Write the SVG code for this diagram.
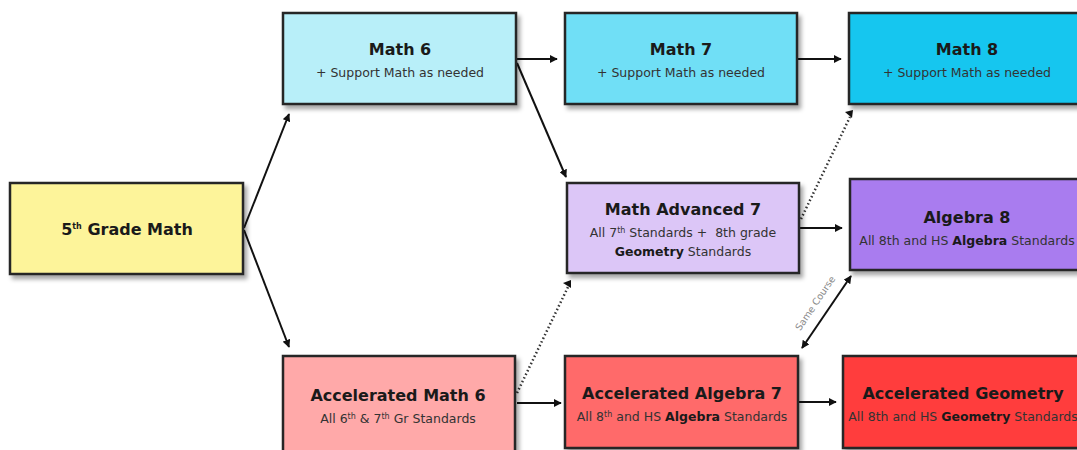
<svg xmlns="http://www.w3.org/2000/svg" width="1077" height="450" viewBox="0 0 1077 450">
<style>
.box{stroke:#262626;stroke-width:2.5;filter:url(#sh)}
.t{font-family:"DejaVu Sans","Liberation Sans",sans-serif;font-weight:bold;font-size:16px;fill:#1a1a1a;text-anchor:middle}
.s{font-family:"DejaVu Sans","Liberation Sans",sans-serif;font-size:12.5px;fill:#333;text-anchor:middle}
.b{font-weight:bold;fill:#1a1a1a}
.sup{font-size:8px}
.c{stroke:#111;stroke-width:2;fill:none}
.d{stroke:#333;stroke-width:2.5;fill:none;stroke-dasharray:1.5 2.5}
.lbl{font-family:"DejaVu Sans","Liberation Sans",sans-serif;font-size:9.5px;fill:#8a8a8a;text-anchor:middle}
</style>
<defs>
<filter id="sh" x="-10%" y="-10%" width="130%" height="140%">
<feDropShadow dx="3" dy="4" stdDeviation="2" flood-color="#000" flood-opacity="0.35"/>
</filter>
<marker id="ah" viewBox="0 0 10 10" refX="9" refY="5" markerWidth="4" markerHeight="4" orient="auto-start-reverse">
<path d="M0,0 L10,5 L0,10 z" fill="#111"/>
</marker>
</defs>
<rect width="1077" height="450" fill="#fff"/>
<g id="connectors">
<line class="c" x1="244" y1="228" x2="289" y2="114" marker-end="url(#ah)"/>
<line class="c" x1="244" y1="230" x2="289" y2="347" marker-end="url(#ah)"/>
<line class="c" x1="517" y1="59" x2="557" y2="59" marker-end="url(#ah)"/>
<line class="c" x1="517" y1="63" x2="566" y2="177" marker-end="url(#ah)"/>
<line class="c" x1="798" y1="59" x2="841" y2="59" marker-end="url(#ah)"/>
<line class="d" x1="801" y1="219" x2="850" y2="117"/>
<path d="M845,112 L853,110 L852,118 z" fill="#111"/>
<line class="c" x1="800" y1="228" x2="842" y2="228" marker-end="url(#ah)"/>
<line class="d" x1="517" y1="393" x2="568" y2="287"/>
<path d="M563,283 L571,280 L571,288 z" fill="#111"/>
<line class="c" x1="517" y1="403" x2="561" y2="403" marker-end="url(#ah)"/>
<line class="c" x1="799" y1="402" x2="836" y2="402" marker-end="url(#ah)"/>
<line class="c" x1="802" y1="348" x2="851" y2="276" marker-start="url(#ah)" marker-end="url(#ah)"/>
<text class="lbl" transform="translate(818,305) rotate(-56)">Same Course</text>
</g>
<g id="n5">
<rect class="box" x="10" y="183" width="233" height="91" fill="#fdf49a"/>
<text class="t" x="127" y="235">5<tspan class="sup" dy="-6">th</tspan><tspan dy="6"> Grade Math</tspan></text>
</g>
<g id="math6">
<rect class="box" x="283" y="13" width="233" height="91" fill="#b8eff9"/>
<text class="t" x="400" y="55">Math 6</text>
<text class="s" x="400" y="77">+ Support Math as needed</text>
</g>
<g id="math7">
<rect class="box" x="565" y="13" width="232" height="91" fill="#6fdff6"/>
<text class="t" x="681" y="55">Math 7</text>
<text class="s" x="681" y="77">+ Support Math as needed</text>
</g>
<g id="math8">
<rect class="box" x="849" y="13" width="240" height="91" fill="#12c6ef"/>
<text class="t" x="967" y="55">Math 8</text>
<text class="s" x="967" y="77">+ Support Math as needed</text>
</g>
<g id="adv7">
<rect class="box" x="567" y="183" width="232" height="90" fill="#dcc6f7"/>
<text class="t" x="683" y="215">Math Advanced 7</text>
<text class="s" x="683" y="237" xml:space="preserve">All 7<tspan class="sup" dy="-4">th</tspan><tspan dy="4"> Standards +  8th grade</tspan></text>
<text class="s" x="683" y="256"><tspan class="b">Geometry</tspan> Standards</text>
</g>
<g id="alg8">
<rect class="box" x="850" y="179" width="240" height="91" fill="#a97bef"/>
<text class="t" x="967" y="223">Algebra 8</text>
<text class="s" x="967" y="245">All 8th and HS <tspan class="b">Algebra</tspan> Standards</text>
</g>
<g id="accmath6">
<rect class="box" x="283" y="356" width="232" height="100" fill="#ffa9a9"/>
<text class="t" x="398" y="401">Accelerated Math 6</text>
<text class="s" x="398" y="423">All 6<tspan class="sup" dy="-4">th</tspan><tspan dy="4"> &amp; 7</tspan><tspan class="sup" dy="-4">th</tspan><tspan dy="4"> Gr Standards</tspan></text>
</g>
<g id="accalg7">
<rect class="box" x="565" y="356" width="233" height="92" fill="#ff6b6b"/>
<text class="t" x="682" y="399">Accelerated Algebra 7</text>
<text class="s" x="682" y="421">All 8<tspan class="sup" dy="-4">th</tspan><tspan dy="4"> and HS </tspan><tspan class="b">Algebra</tspan> Standards</text>
</g>
<g id="accgeo">
<rect class="box" x="843" y="356" width="250" height="92" fill="#ff3d3d"/>
<text class="t" x="963" y="399">Accelerated Geometry</text>
<text class="s" x="963" y="421">All 8th and HS <tspan class="b">Geometry</tspan> Standards</text>
</g>
</svg>
